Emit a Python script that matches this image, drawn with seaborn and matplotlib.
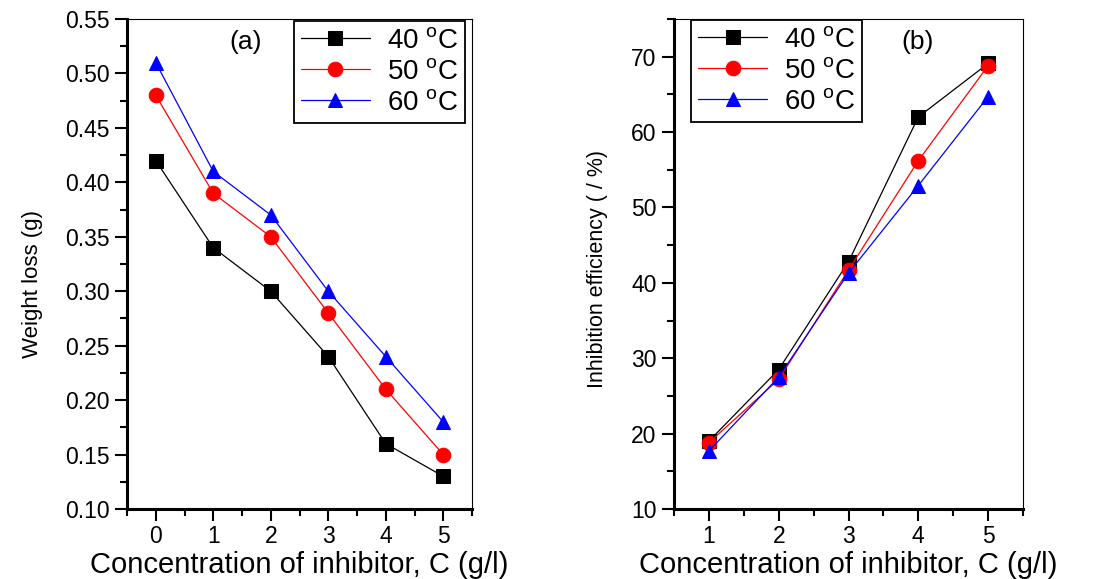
import numpy as np
import pandas as pd
import matplotlib
matplotlib.use("Agg")
import matplotlib.pyplot as plt
from matplotlib.ticker import MultipleLocator, AutoMinorLocator, FormatStrFormatter
from matplotlib import font_manager
import seaborn as sns

# ---- data ----
conc_a = [0, 1, 2, 3, 4, 5]
wl_40 = [0.42, 0.34, 0.30, 0.24, 0.16, 0.13]
wl_50 = [0.48, 0.39, 0.35, 0.28, 0.21, 0.15]
wl_60 = [0.51, 0.41, 0.37, 0.30, 0.24, 0.18]

conc_b = [1, 2, 3, 4, 5]
ie_40 = [19.0, 28.5, 42.8, 62.0, 69.1]
ie_50 = [18.8, 27.2, 41.7, 56.2, 68.8]
ie_60 = [17.7, 27.5, 41.3, 52.9, 64.7]

temps = ["40", "50", "60"]
xlabel = "Concentration of inhibitor, C (g/l)"
ylabel_a = "Weight loss (g)"
ylabel_b = "Inhibition efficiency ( / %)"

sns.set_style("ticks")
plt.rcParams['font.family'] = ['Liberation Sans', 'DejaVu Sans']
plt.rcParams['mathtext.fontset'] = 'custom'
plt.rcParams['mathtext.rm'] = 'Liberation Sans'
plt.rcParams['mathtext.it'] = 'Liberation Sans'
for k in ['text.color', 'axes.labelcolor', 'xtick.color', 'ytick.color',
          'axes.edgecolor', 'xtick.labelcolor', 'ytick.labelcolor']:
    plt.rcParams[k] = 'black'

names = {f.name for f in font_manager.fontManager.ttflist}
if 'Liberation Sans Narrow' in names:
    narrow, ylab_a_size, ylab_b_size = 'Liberation Sans Narrow', 20, 19.5
else:
    narrow, ylab_a_size, ylab_b_size = 'Liberation Sans', 16, 15.5

W, H = 1094, 579
fig = plt.figure(figsize=(W / 100, H / 100), dpi=100)
fig.patch.set_facecolor('white')

def px_axes(l, t, r, b):
    return fig.add_axes([l / W, 1 - b / H, (r - l) / W, (b - t) / H])

ax_a = px_axes(127, 19, 472, 509)
ax_b = px_axes(674, 19, 1023, 509)

colors = ["black", "red", "blue"]
markers = ["s", "o", "^"]
labels = [r"%s $^{\rm o}$C" % t for t in temps]

def draw(ax, x, series):
    for ys, c, m, lab in zip(series, colors, markers, labels):
        df = pd.DataFrame({"x": x, "y": ys})
        sns.lineplot(data=df, x="x", y="y", ax=ax, color=c, marker=m,
                     markersize=10.5, markeredgecolor=c, linewidth=0.9,
                     label=lab, legend=False)

draw(ax_a, conc_a, [wl_40, wl_50, wl_60])
draw(ax_b, conc_b, [ie_40, ie_50, ie_60])

ax_a.set_xlim(-0.5, 5.5)
ax_a.set_ylim(0.10, 0.55)
ax_a.xaxis.set_major_locator(MultipleLocator(1))
ax_a.yaxis.set_major_locator(MultipleLocator(0.05))
ax_a.yaxis.set_major_formatter(FormatStrFormatter('%.2f'))

ax_b.set_xlim(0.5, 5.5)
ax_b.set_ylim(10, 75)
ax_b.xaxis.set_major_locator(MultipleLocator(1))
ax_b.yaxis.set_major_locator(MultipleLocator(10))

for ax, yl, ys in [(ax_a, ylabel_a, ylab_a_size), (ax_b, ylabel_b, ylab_b_size)]:
    ax.xaxis.set_minor_locator(AutoMinorLocator(2))
    ax.yaxis.set_minor_locator(AutoMinorLocator(2))
    ax.tick_params(axis='both', which='major', direction='out', length=8.5,
                   width=1.5, labelsize=16.5, top=False, right=False,
                   colors='black')
    ax.tick_params(axis='x', which='major', pad=3)
    ax.tick_params(axis='y', which='major', pad=4)
    ax.tick_params(axis='both', which='minor', direction='out', length=5,
                   width=1.5, top=False, right=False, colors='black')
    for s in ['left', 'bottom']:
        ax.spines[s].set_linewidth(2.2)
        ax.spines[s].set_color('black')
    for s in ['top', 'right']:
        ax.spines[s].set_visible(True)
        ax.spines[s].set_linewidth(0.8)
        ax.spines[s].set_color('black')
    ax.set_xlabel(xlabel, fontsize=21, color='black')
    ax.xaxis.set_label_coords(0.5, -(573 - 509) / 490, transform=ax.transAxes)
    ax.xaxis.label.set_va('baseline')
    ax.set_ylabel(yl, fontsize=ys, family=[narrow, 'DejaVu Sans'], color='black')
    ax.set_facecolor('white')

ax_a.yaxis.set_label_coords((43 - 127) / 345, 1 - (284 - 19) / 490)
ax_b.yaxis.set_label_coords((608 - 674) / 349, 1 - (269 - 19) / 490)

ax_a.text(1.56, 0.529, "(a)", fontsize=19, ha='center', va='center', color='black')
ax_b.text(3.99, 71.9, "(b)", fontsize=19, ha='center', va='center', color='black')

leg_kw = dict(fontsize=20, frameon=True, fancybox=False, framealpha=1,
              edgecolor='black', handlelength=2.5, handletextpad=0.6,
              labelspacing=0.18, borderpad=0.25, borderaxespad=0)
la = ax_a.legend(loc='upper right',
                 bbox_to_anchor=((465 - 127) / 345, 1 - (21 - 19) / 490), **leg_kw)
lb = ax_b.legend(loc='upper left',
                 bbox_to_anchor=((691 - 674) / 349, 1 - (20 - 19) / 490), **leg_kw)
for lg in (la, lb):
    lg.get_frame().set_linewidth(1.3)
    for t in lg.get_texts():
        t.set_color('black')

fig.savefig("out.png", dpi=100, facecolor='white')
